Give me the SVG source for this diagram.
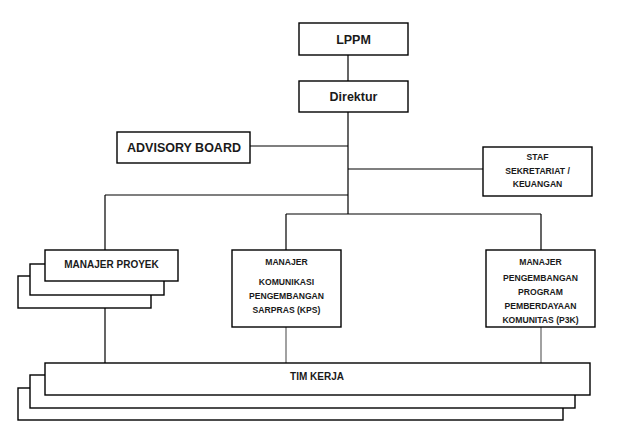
<svg xmlns="http://www.w3.org/2000/svg" width="620" height="447" viewBox="0 0 620 447">
<style>
.box{fill:#fff;stroke:#000;stroke-width:1.4}
.ln{fill:none;stroke:#000;stroke-width:1.2}
.gl{fill:none;stroke:#7a7a7a;stroke-width:1.4}
text{font-family:"Liberation Sans",Arial,sans-serif;font-weight:bold;fill:#1a1a1a;text-anchor:middle}
.t1{font-size:12.5px}
.t2{font-size:10px}
.t3{font-size:8.6px}
</style>
<rect width="620" height="447" fill="#fff"/>
<g id="connectors">
<path class="ln" d="M348 55V81M348 112V214M250 146H348M348 169H483M105 195H348M105 195V250M286 214H541M286 214V250M541 214V250M105 308V363"/>
<path class="gl" d="M286 327V363M541 327V363"/>
</g>
<g id="lppm"><rect class="box" x="299" y="23" width="109" height="32"/><text class="t1" x="353.5" y="44">LPPM</text></g>
<g id="direktur"><rect class="box" x="299" y="81" width="109" height="31"/><text class="t1" x="353.5" y="101">Direktur</text></g>
<g id="advisory"><rect class="box" x="117" y="132" width="133" height="31"/><text class="t1" x="184" y="152">ADVISORY BOARD</text></g>
<g id="staf"><rect class="box" x="483" y="147" width="109" height="49"/>
<text class="t3" x="537.5" y="160">STAF</text><text class="t3" x="537.5" y="174">SEKRETARIAT /</text><text class="t3" x="537.5" y="187">KEUANGAN</text></g>
<g id="manajer-proyek">
<rect class="box" x="18" y="276" width="133" height="32"/>
<rect class="box" x="30" y="264" width="134" height="31"/>
<rect class="box" x="45" y="250" width="133" height="31"/>
<text class="t2" x="111.5" y="268">MANAJER PROYEK</text></g>
<g id="manajer-kps"><rect class="box" x="232" y="250" width="109" height="77"/>
<text class="t3" x="286.5" y="265">MANAJER</text><text class="t3" x="286.5" y="285">KOMUNIKASI</text><text class="t3" x="286.5" y="299">PENGEMBANGAN</text><text class="t3" x="286.5" y="313">SARPRAS (KPS)</text></g>
<g id="manajer-p3k"><rect class="box" x="486" y="250" width="109" height="77"/>
<text class="t3" x="540.5" y="265">MANAJER</text><text class="t3" x="540.5" y="281">PENGEMBANGAN</text><text class="t3" x="540.5" y="295">PROGRAM</text><text class="t3" x="540.5" y="309">PEMBERDAYAAN</text><text class="t3" x="540.5" y="323">KOMUNITAS (P3K)</text></g>
<g id="tim-kerja">
<rect class="box" x="18" y="388" width="545" height="32"/>
<rect class="box" x="30" y="375" width="545" height="33"/>
<rect class="box" x="45" y="363" width="545" height="32"/>
<text class="t2" x="317" y="380">TIM KERJA</text></g>
</svg>
